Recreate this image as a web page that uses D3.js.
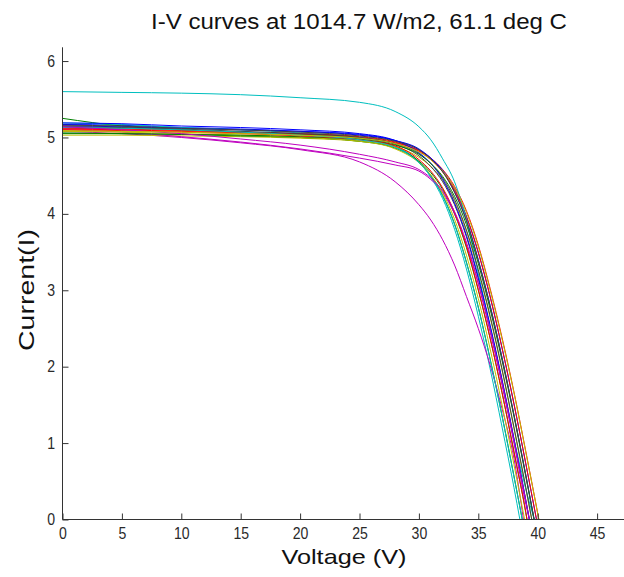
<!DOCTYPE html>
<html><head><meta charset="utf-8">
<script src="https://cdn.jsdelivr.net/npm/d3@7"></script>
<style>
body{margin:0;background:#fff;}
svg{display:block;}
.tick text{transform-box:fill-box;transform-origin:center;transform:scaleX(0.88);}
</style></head><body><svg id="chart" width="624" height="577"></svg>
<script>
// Voltage sample points (V)
const voltageGrid = [0, 5, 10, 15, 20, 25, 28, 30, 31, 32, 33, 34, 35, 36, 37, 38, 39];

// Line colours (MATLAB default colour order)
const curveColors = [
  "#0000FF", "#008000", "#FF0000", "#00BFBF", "#BF00BF", "#BFBF00", "#404040",
  "#0000FF", "#008000", "#FF0000", "#00BFBF", "#BF00BF", "#BFBF00", "#404040",
  "#0000FF", "#008000", "#FF0000", "#00BFBF", "#BF00BF", "#BFBF00", "#404040"
];

// Current (A) at each voltage of voltageGrid, per curve
const curveCurrents = [
  [5.17,5.16,5.13,5.11,5.08,5.03,4.96,4.85,4.73,4.56,4.29,3.92,3.40,2.80,2.12,1.37,0.58],
  [5.25,5.15,5.10,5.07,5.04,4.98,4.88,4.68,4.50,4.24,3.87,3.37,2.78,2.10,1.36,0.57],
  [5.11,5.10,5.08,5.06,5.04,5.00,4.93,4.83,4.73,4.58,4.36,4.04,3.59,3.02,2.38,1.67,0.89],
  [5.19,5.17,5.13,5.10,5.06,5.00,4.88,4.68,4.48,4.20,3.80,3.28,2.66,1.97,1.21,0.42],
  [5.08,5.05,5.00,4.93,4.84,4.68,4.42,4.12,3.92,3.66,3.33,2.92,2.50,2.02,1.45,0.80],
  [5.03,5.03,5.02,5.01,4.99,4.95,4.88,4.74,4.62,4.44,4.16,3.77,3.25,2.64,1.95,1.19,0.40],
  [5.13,5.12,5.10,5.07,5.04,4.99,4.91,4.76,4.62,4.42,4.12,3.70,3.15,2.52,1.82,1.05,0.25],
  [5.15,5.14,5.12,5.10,5.08,5.04,4.96,4.84,4.73,4.57,4.33,3.97,3.50,2.92,2.25,1.52,0.73],
  [5.06,5.05,5.04,5.02,5.00,4.95,4.86,4.69,4.54,4.32,4.00,3.56,3.00,2.37,1.66,0.89,0.09],
  [5.12,5.11,5.09,5.07,5.05,5.01,4.94,4.82,4.71,4.55,4.31,3.96,3.49,2.91,2.24,1.51,0.73],
  [5.60,5.59,5.58,5.56,5.52,5.46,5.34,5.14,4.97,4.72,4.42,3.92,3.22,2.51,1.78,1.05,0.40],
  [5.10,5.07,5.01,4.94,4.85,4.73,4.64,4.56,4.45,4.28,4.00,3.60,3.08,2.45,1.76,1.00,0.20],
  [5.08,5.07,5.05,5.03,5.00,4.95,4.85,4.67,4.51,4.27,3.93,3.46,2.89,2.23,1.50,0.72],
  [5.14,5.13,5.11,5.08,5.05,5.00,4.92,4.79,4.66,4.47,4.19,3.79,3.27,2.66,1.97,1.21,0.42],
  [5.19,5.18,5.15,5.13,5.10,5.05,4.96,4.80,4.66,4.45,4.14,3.72,3.17,2.54,1.83,1.06,0.25],
  [5.05,5.05,5.04,5.03,5.01,4.97,4.90,4.78,4.66,4.49,4.23,3.86,3.35,2.75,2.08,1.35,0.56],
  [5.10,5.09,5.07,5.05,5.02,4.97,4.89,4.71,4.56,4.34,4.02,3.58,3.01,2.37,1.66,0.88,0.09],
  [5.13,5.12,5.10,5.07,5.03,4.97,4.87,4.67,4.49,4.23,3.86,3.36,2.77,2.09,1.35,0.56],
  [5.14,5.10,5.05,4.98,4.90,4.78,4.68,4.58,4.47,4.30,4.03,3.63,3.10,2.48,1.79,1.03,0.24],
  [5.09,5.08,5.07,5.05,5.03,4.99,4.92,4.81,4.71,4.56,4.34,4.02,3.57,3.00,2.36,1.66,0.88],
  [5.16,5.15,5.12,5.10,5.07,5.02,4.95,4.84,4.72,4.55,4.28,3.91,3.39,2.79,2.11,1.37,0.58]
];

// Open-circuit voltage (V) per curve
const curveVoc = [39.7, 38.7, 40.1, 38.5, 38.8, 39.5, 39.3, 39.9, 39.1, 39.9, 39.7,
                  39.3, 38.9, 39.5, 39.3, 39.7, 39.1, 38.7, 39.3, 40.1, 39.7];

const xTicks = [0, 5, 10, 15, 20, 25, 30, 35, 40, 45];
const yTicks = [0, 1, 2, 3, 4, 5, 6];

const titleText = "I-V curves at 1014.7 W/m2, 61.1 deg C";
const xLabelText = "Voltage (V)";
const yLabelText = "Current(I)";

const svg = d3.select("#chart");
const x = d3.scaleLinear().domain([0, 50]).range([62.5, 656.5]);
const y = d3.scaleLinear().domain([0, 6.18]).range([519.5, 47.3]);

const axisColor = "#333";
const fontFam = "'Liberation Sans', Arial, Helvetica, sans-serif";

// curves
const line = d3.line()
  .x(d => x(d[0]))
  .y(d => y(d[1]))
  .curve(d3.curveMonotoneX);

const plot = svg.append("g");
curveCurrents.forEach((cur, i) => {
  const pts = cur.map((c, j) => [voltageGrid[j], c]);
  pts.push([curveVoc[i], 0]);
  plot.append("path")
    .attr("d", line(pts))
    .attr("fill", "none")
    .attr("stroke", curveColors[i])
    .attr("stroke-width", 1);
});

// x axis
const xAxis = d3.axisBottom(x).tickValues(xTicks).tickFormat(d3.format("d"))
  .tickSize(-6).tickPadding(8).tickSizeOuter(0);
const gx = svg.append("g").attr("transform", "translate(0,519.5)").call(xAxis);
gx.select(".domain").attr("stroke", axisColor).attr("d", "M62.5,0H656.5");
gx.selectAll(".tick line").attr("stroke", axisColor);
gx.selectAll(".tick text").attr("fill", "#2a2a2a").attr("font-size", 16).attr("font-family", fontFam);

// y axis
const yAxis = d3.axisLeft(y).tickValues(yTicks).tickFormat(d3.format("d"))
  .tickSize(-6).tickPadding(7).tickSizeOuter(0);
const gy = svg.append("g").attr("transform", "translate(62.5,0)").call(yAxis);
gy.select(".domain").attr("stroke", axisColor).attr("d", "M0,47.3V519.5");
gy.selectAll(".tick line").attr("stroke", axisColor);
gy.selectAll(".tick text").attr("fill", "#2a2a2a").attr("font-size", 16).attr("font-family", fontFam);

// title & labels
svg.append("text").attr("x", 359).attr("y", 29).attr("text-anchor", "middle")
  .attr("font-family", fontFam).attr("font-size", 22).attr("fill", "#111")
  .attr("textLength", 416).attr("lengthAdjust", "spacingAndGlyphs").text(titleText);
svg.append("text").attr("x", 344).attr("y", 564).attr("text-anchor", "middle")
  .attr("font-family", fontFam).attr("font-size", 21).attr("fill", "#111")
  .attr("textLength", 125).attr("lengthAdjust", "spacingAndGlyphs").text(xLabelText);
svg.append("text").attr("transform", "translate(34,290) rotate(-90)").attr("text-anchor", "middle")
  .attr("font-family", fontFam).attr("font-size", 22).attr("fill", "#111")
  .attr("textLength", 122).attr("lengthAdjust", "spacingAndGlyphs").text(yLabelText);
</script></body></html>
